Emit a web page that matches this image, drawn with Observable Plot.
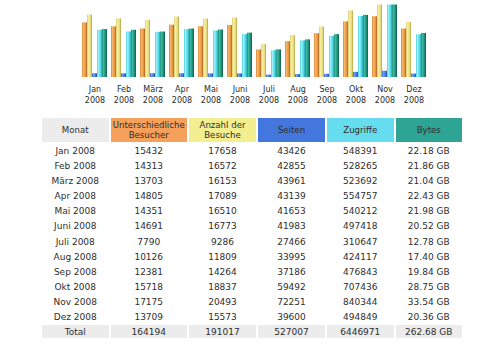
<!DOCTYPE html>
<html><head><meta charset="utf-8">
<script src="https://cdn.jsdelivr.net/npm/d3@7"></script>
<script src="https://cdn.jsdelivr.net/npm/@observablehq/plot@0.6"></script>
<style>
body{margin:0;background:#fff;font-family:"DejaVu Sans",Verdana,sans-serif;width:500px;height:350px;overflow:hidden;}
#chart{position:absolute;left:0;top:0;}
#tbl{position:absolute;left:40px;top:116px;border-collapse:separate;border-spacing:2px;table-layout:fixed;width:424px;font-size:9px;color:#2e2e2e;}
#tbl td,#tbl th{text-align:center;padding:0;font-weight:normal;overflow:hidden;white-space:nowrap;}
#tbl th{height:24px;line-height:10px;font-size:8.6px;}
#tbl td{height:11.1px;line-height:11.1px;padding-top:2px;}
#tbl tr.total td{background:#ececec;}
</style></head><body>
<div id="chart"></div>
<table id="tbl"></table>
<script>
// ---- data ----
const months = ["Jan","Feb","März","Apr","Mai","Juni","Juli","Aug","Sep","Okt","Nov","Dez"];
const year = "2008";
const visitors = [15432,14313,13703,14805,14351,14691,7790,10126,12381,15718,17175,13709];
const visits   = [17658,16572,16153,17089,16510,16773,9286,11809,14264,18837,20493,15573];
const pages    = [43426,42855,43961,43139,41653,41983,27466,33995,37186,59492,72251,39600];
const hits     = [548391,528265,523692,554757,540212,497418,310647,424117,476843,707436,840344,494849];
const bytesGB  = [22.18,21.86,21.04,22.43,21.98,20.52,12.78,17.40,19.84,28.75,33.54,20.36];
const totals   = ["164194","191017","527007","6446971","262.68 GB"];
const headers  = ["Monat","Unterschiedliche<br>Besucher","Anzahl der<br>Besuche","Seiten","Zugriffe","Bytes"];
const seriesKeys = ["u","v","p","h","k"];

// ---- bar chart ----
const maxV = d3.max(visits), maxH = d3.max(hits), maxK = d3.max(bytesGB);
const rows = [];
months.forEach((m, i) => {
  rows.push({m, s: "u", f: visitors[i] / maxV});
  rows.push({m, s: "v", f: visits[i] / maxV});
  rows.push({m, s: "p", f: pages[i] / maxH});
  rows.push({m, s: "h", f: hits[i] / maxH});
  rows.push({m, s: "k", f: bytesGB[i] / maxK});
});

const chart = Plot.plot({
  width: 500, height: 110,
  marginTop: 4.5, marginBottom: 33, marginLeft: 82, marginRight: 74,
  fx: {domain: months, paddingInner: 0.138, paddingOuter: 0, label: null},
  x: {domain: seriesKeys, padding: 0, axis: null},
  y: {domain: [0, 1], axis: null},
  color: {type: "identity"},
  style: {fontFamily: "DejaVu Sans, Verdana, sans-serif", color: "#2a2a2a", background: "transparent"},
  marks: [
    Plot.barY(rows, {fx: "m", x: "s", y: "f", fill: d => "url(#g_" + d.s + ")", inset: 0}),
    Plot.axisFx({anchor: "bottom", tickSize: 0, tickPadding: 7, label: null, fontSize: 8, lineHeight: 1.35,
                 tickFormat: m => m + "\n" + year})
  ]
});

const grads = {
  u: [[0,"#d98a3a"],[0.3,"#f6b46a"],[0.7,"#e8963f"],[1,"#b0621c"]],
  v: [[0,"#d6cc70"],[0.3,"#f6eea0"],[0.7,"#e8dc80"],[1,"#b0a040"]],
  p: [[0,"#3a66c8"],[0.3,"#709cf2"],[0.7,"#4477dd"],[1,"#284ea0"]],
  h: [[0,"#50d0e0"],[0.3,"#9af0f6"],[0.7,"#50d8e8"],[1,"#28a8b8"]],
  k: [[0,"#229080"],[0.3,"#3cb8a0"],[0.7,"#1e8c74"],[1,"#0e5e48"]]
};
const defs = d3.create("svg:defs");
Object.entries(grads).forEach(([k, stops]) => {
  const g = defs.append("linearGradient").attr("id", "g_" + k)
    .attr("x1", "0").attr("x2", "1").attr("y1", "0").attr("y2", "0");
  stops.forEach(([o, c]) => g.append("stop").attr("offset", o).attr("stop-color", c));
});
chart.insertBefore(defs.node(), chart.firstChild);
document.getElementById("chart").appendChild(chart);

// ---- table ----
const headBg = ["#ececec","#f5a15c","#f3ee90","#4477dd","#66ddee","#2ea495"];
const colW = [66.5,76.5,67,67,66.5,66.5];
const tbl = d3.select("#tbl");
tbl.append("colgroup").selectAll("col").data(colW).join("col").style("width", d => d + "px");
const tb = tbl.append("tbody");
const hr = tb.append("tr");
headers.forEach((h, i) => hr.append("th").style("background", headBg[i]).html(h));
months.forEach((m, i) => {
  const tr = tb.append("tr");
  [m + " " + year, visitors[i], visits[i], pages[i], hits[i], bytesGB[i].toFixed(2) + " GB"]
    .forEach(v => tr.append("td").text(v));
});
const trT = tb.append("tr").attr("class", "total");
trT.append("td").text("Total");
totals.forEach(v => trT.append("td").text(v));
</script>
</body></html>
